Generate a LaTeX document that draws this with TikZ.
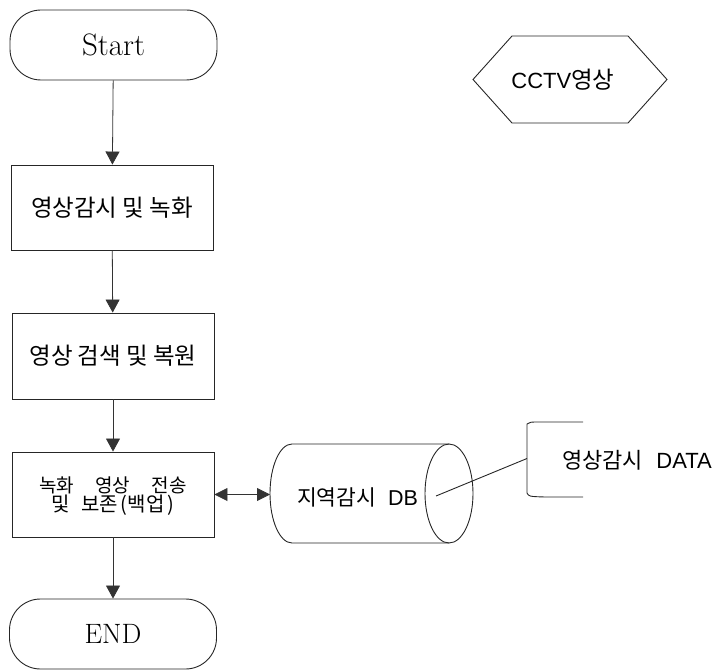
\documentclass[tikz,border=0pt]{standalone}
\usepackage{fontspec}
\usetikzlibrary{arrows.meta,calc}
\newfontfamily\kr{Noto Sans CJK KR}
\newfontfamily\lat{Liberation Sans}
% two tightly set lines, each centred in a box of the given width
\newcommand{\twolines}[3]{\vbox{\baselineskip=19.5pt\lineskiplimit=-30pt\kern3pt
  \hbox to #1{\hss#2\hss}\hbox to #1{\hss#3\hss}}}
\begin{document}
\begin{tikzpicture}[x=1pt,y=1pt,
  line/.style={draw=black!85, line width=0.9pt},
  term/.style={line, rounded corners=31pt, minimum width=207pt, minimum height=70pt,
    inner sep=0pt},
  proc/.style={line, minimum width=202pt, minimum height=85pt, inner sep=0pt,
    font=\kr\fontsize{23.5}{25}\selectfont},
  flow/.style={draw=black!80, line width=0.8pt, -{Triangle[length=13pt,width=14pt]}},
  both/.style={draw=black!80, line width=0.8pt,
    {Triangle[length=13pt,width=13pt]}-{Triangle[length=13pt,width=13pt]}},
  note/.style={inner sep=0pt, font=\kr\fontsize{22}{24}\selectfont},
]
\useasboundingbox (0,0) rectangle (714,670);

% main flow
\node[term, font=\fontsize{31}{34}\selectfont] (start) at (113.5,625) {Start};
\node[proc] (watch) at (112,462.5) {영상감시 및 녹화};
\node[proc, minimum height=86pt] (search) at (113,314) {영상 검색 및 복원};
\node[proc] (backup) at (113,175.5)
  {\twolines{147pt}
    {\kr\fontsize{19}{18}\selectfont
     \makebox[147pt][s]{녹화\hfil 영상\hfil 전송}}
    {\kr\fontsize{20}{18}\selectfont
     및\hspace{11pt}보존\hspace{3pt}(백업\hspace{3pt})}};
\node[term, font=\fontsize{28}{31}\selectfont] (end) at (113,36) {END};

\draw[flow] (start) -- (watch);
\draw[flow] (watch) -- (search);
\draw[flow] (search) -- (backup);
\draw[flow] (backup) -- (end);

% CCTV input (hexagon)
\node[inner sep=0pt] (cctv) at (563,590.5)
  {{\lat\fontsize{22}{24}\selectfont CCTV}{\kr\fontsize{23.5}{24}\selectfont 영상}};
\draw[line] (473,590.5) -- (512,634) -- (628,634) -- (667,590.5)
  -- (628,547) -- (512,547) -- cycle;

% local monitoring database (cylinder)
\draw[line] (449,226) -- (292,226)
  arc[start angle=90, end angle=270, x radius=22pt, y radius=49.5pt] -- (449,127);
\draw[line] (449,176.5) ellipse [x radius=24pt, y radius=49.5pt];
\node[note, font=\kr\fontsize{21.5}{24}\selectfont] (db) at (357.5,173)
  {지역감시\hspace{0.55em}{\lat DB}};
\coordinate (dbin) at (270,176.5);
\coordinate (dbpt) at (436,174);
\draw[both] (backup.east) -- (backup.east -| dbin);

% annotation
\coordinate (brk) at (527,211.5);
\draw[line] (583,248) -- (540,248) .. controls (530,248) .. (527,246)
  -- (527,177) .. controls (529,173.5) .. (545,173) -- (583,173);
\draw[line] (dbpt) -- (brk);
\node[note] (data) at (637,210) {영상감시\hspace{0.6em}{\lat DATA}};
\end{tikzpicture}
\end{document}
